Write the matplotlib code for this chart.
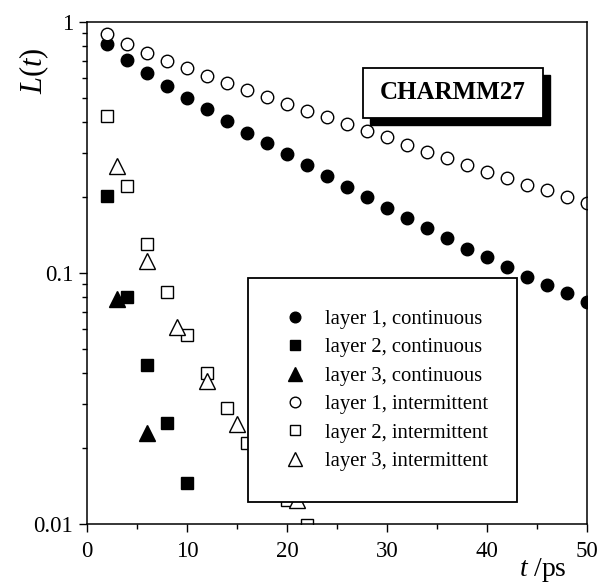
import matplotlib
matplotlib.use("Agg")
from matplotlib import pyplot as plt
from matplotlib.patches import Rectangle
from matplotlib.ticker import FixedLocator, MultipleLocator, NullFormatter

plt.rcParams["font.family"] = ["Liberation Serif", "DejaVu Serif"]
plt.rcParams["mathtext.fontset"] = "custom"
plt.rcParams["mathtext.rm"] = "Liberation Serif"
plt.rcParams["mathtext.it"] = "Liberation Serif:italic"

# layer 1 (every 2 ps)
t_l1 = [2, 4, 6, 8, 10, 12, 14, 16, 18, 20, 22, 24, 26, 28, 30,
        32, 34, 36, 38, 40, 42, 44, 46, 48, 50]
l1_cont = [0.815, 0.706, 0.628, 0.556, 0.499, 0.449, 0.403, 0.362, 0.329,
           0.298, 0.269, 0.243, 0.221, 0.200, 0.182, 0.165, 0.151, 0.1375,
           0.125, 0.116, 0.106, 0.0966, 0.0896, 0.083, 0.0769]
l1_int = [0.893, 0.815, 0.755, 0.701, 0.654, 0.609, 0.573, 0.536, 0.504,
          0.471, 0.443, 0.417, 0.392, 0.369, 0.348, 0.324, 0.304, 0.286,
          0.269, 0.253, 0.238, 0.224, 0.214, 0.201, 0.190]

# layer 2
t_l2c = [2, 4, 6, 8, 10]
l2_cont = [0.203, 0.0805, 0.043, 0.0253, 0.0145]
t_l2i = [2, 4, 6, 8, 10, 12, 14, 16, 20, 22]
l2_int = [0.422, 0.222, 0.130, 0.0842, 0.0566, 0.0401, 0.0289, 0.0211,
          0.0125, 0.0099]

# layer 3
t_l3c = [3, 6]
l3_cont = [0.0786, 0.0231]
t_l3i = [3, 6, 9, 12, 15, 21]
l3_int = [0.268, 0.112, 0.0607, 0.0371, 0.025, 0.0125]

fig = plt.figure(figsize=(6.02, 5.86), dpi=100)
ax = fig.add_axes([87 / 602, 62 / 586, 500 / 602, 502 / 586])

filled = dict(color="black", linestyle="none", markeredgecolor="black")
hollow = dict(color="black", linestyle="none", markerfacecolor="white",
              markeredgecolor="black", markeredgewidth=1.0)

ax.plot(t_l1, l1_cont, marker="o", markersize=9, label="layer 1, continuous", **filled)
ax.plot(t_l2c, l2_cont, marker="s", markersize=8.3, label="layer 2, continuous", **filled)
ax.plot(t_l3c, l3_cont, marker="^", markersize=11.5, label="layer 3, continuous", **filled)
ax.plot(t_l1, l1_int, marker="o", markersize=9, label="layer 1, intermittent", **hollow)
ax.plot(t_l2i, l2_int, marker="s", markersize=8.3, label="layer 2, intermittent", **hollow)
ax.plot(t_l3i, l3_int, marker="^", markersize=11.5, label="layer 3, intermittent", **hollow)

ax.set_yscale("log")
ax.set_xlim(0, 50)
ax.set_ylim(0.01, 1)

ax.xaxis.set_major_locator(MultipleLocator(10))
ax.xaxis.set_minor_locator(MultipleLocator(5))
ax.yaxis.set_major_locator(FixedLocator([0.01, 0.1, 1]))
ax.set_yticklabels(["0.01", "0.1", "1"])
ax.yaxis.set_minor_formatter(NullFormatter())

for sp in ax.spines.values():
    sp.set_linewidth(1.1)

ax.tick_params(which="both", direction="out", labelsize=16.5, width=1.0,
               top=False, right=False)
ax.tick_params(which="major", length=6)
ax.tick_params(which="minor", length=3.5)
ax.tick_params(axis="x", which="major", pad=6)
ax.tick_params(axis="y", which="major", pad=4)

fig.text(34 / 602, 1 - 71 / 586, "$L(t)$", rotation=90, fontsize=22,
         ha="center", va="center")
fig.text(543 / 602, 1 - 570 / 586, r"$t\ /\mathrm{ps}$", fontsize=20,
         ha="center", va="center")

# CHARMM27 label box with drop shadow
bx, by, bw, bh = 0.552, 0.809, 0.36, 0.0996
ax.add_patch(Rectangle((bx + 0.013, by - 0.014), bw, bh, transform=ax.transAxes,
                       facecolor="black", edgecolor="black", zorder=5))
ax.add_patch(Rectangle((bx, by), bw, bh, transform=ax.transAxes,
                       facecolor="white", edgecolor="black", linewidth=1.3, zorder=6))
ax.text(bx + bw / 2, by + bh / 2, "CHARMM27", transform=ax.transAxes,
        fontsize=18, fontweight="bold", ha="center", va="center", zorder=7)

leg = ax.legend(loc="upper left", bbox_to_anchor=(0.322, 0.0478, 0.538, 0.442),
                mode="expand", fontsize=14.9, numpoints=1, fancybox=False,
                framealpha=1, edgecolor="black", borderpad=1.52,
                labelspacing=0.43, handlelength=1.5, handletextpad=0.7,
                markerscale=0.85, borderaxespad=0)
leg.get_frame().set_linewidth(1.3)
leg.set_zorder(8)

plt.savefig("out.png", dpi=100)
